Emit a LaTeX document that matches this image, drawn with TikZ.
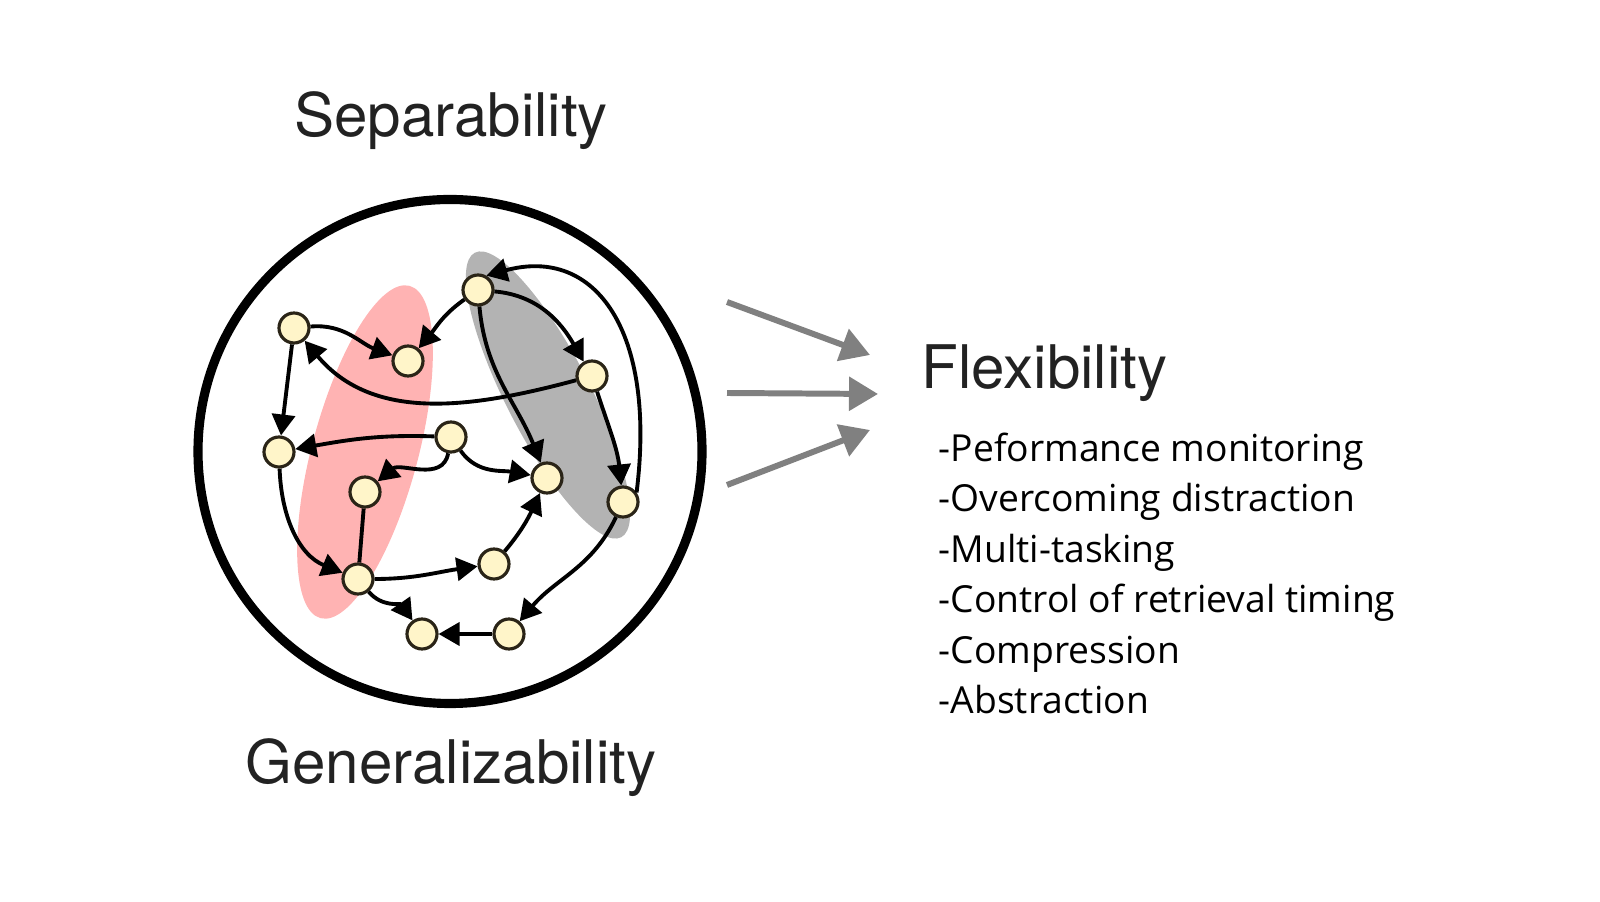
\documentclass[tikz,border=0pt]{standalone}
\usepackage{fontspec}
\setmainfont{TeX Gyre Heros}
\newfontfamily\listfont{Open Sans}
\usetikzlibrary{arrows.meta}
\definecolor{unitfill}{HTML}{FFF5C9}
\definecolor{unitedge}{HTML}{2A2417}
\definecolor{redzone}{HTML}{FFB3B3}
\definecolor{grayzone}{HTML}{B3B3B3}
\definecolor{fanline}{HTML}{808080}
\definecolor{ink}{HTML}{222222}

\begin{document}
\begin{tikzpicture}[>={Triangle[length=2.1mm,width=2.3mm]},
  unit/.style={circle,draw=unitedge,fill=unitfill,line width=0.9pt,minimum size=3mm,inner sep=0pt},
  link/.style={->,line width=1.1pt},
  fan/.style={-{Triangle[length=2.9mm,width=3.3mm]},fanline,line width=1.7pt},
  title/.style={font=\fontsize{17.1}{20}\selectfont,text=ink,inner sep=0pt},
  item/.style={font=\listfont\fontsize{10.6}{12}\selectfont,anchor=base west,inner sep=0pt}]
  \useasboundingbox (0,0) rectangle (16,9.01);

  % the two shaded groups, under everything else
  \fill[redzone,rotate around={75:(3.65,4.49)}] (3.65,4.49) ellipse (1.72 and 0.53);
  \fill[grayzone,rotate around={-62.8:(5.48,5.06)}] (5.48,5.06) ellipse (1.60 and 0.42);
  \draw[line width=2.6pt] (4.50,4.495) circle (2.52);

  % units of the network
  \node[unit] (n1) at (2.94,5.73) {};
  \node[unit] (n2) at (4.08,5.40) {};
  \node[unit] (n3) at (4.78,6.11) {};
  \node[unit] (n4) at (5.92,5.25) {};
  \node[unit] (n5) at (2.79,4.49) {};
  \node[unit] (n6) at (4.51,4.64) {};
  \node[unit] (n7) at (3.65,4.09) {};
  \node[unit] (n8) at (5.47,4.23) {};
  \node[unit] (n9) at (6.23,3.99) {};
  \node[unit] (n10) at (3.58,3.22) {};
  \node[unit] (n11) at (4.94,3.37) {};
  \node[unit] (n12) at (4.22,2.67) {};
  \node[unit] (n13) at (5.09,2.67) {};

  \draw[link] (n1) to[out=5,in=160] (n2);
  \draw[link] (n4) to[out=195,in=-50] (n1);
  \draw[link] (n3) to[out=215,in=50] (n2);
  \draw[link] (n3) to[out=-5,in=120] (n4);
  \draw[link] (n9.35) .. controls +(0.2,1.6) and +(1.1,0.3) .. (n3.60);
  \draw[link] (n3) to[out=-85,in=112] (n8);
  \draw[link] (n4) to[out=-72,in=96] (n9);
  \draw[link] (n1) -- (n5);
  \draw[link] (n6) to[out=178,in=10] (n5);
  \draw[link] (n6) to[out=-100,in=40] (n7);
  \draw[link] (n6) to[out=-55,in=170] (n8);
  \draw[link] (n5) to[out=-88,in=158] (n10);
  \draw[line width=1.1pt] (n7) -- (n10);
  \draw[link] (n10) to[out=0,in=188] (n11);
  \draw[link] (n11) to[out=50,in=-115] (n8);
  \draw[link] (n10) to[out=-50,in=125] (n12);
  \draw[link] (n13) -- (n12);
  \draw[link] (n9) to[out=-115,in=50] (n13);

  \node[title,anchor=base] (sep) at (4.51,7.64) {Separability};
  \node[title,anchor=base] (gen) at (4.51,1.17) {Generalizability};

  % three arrows into the right-hand list
  \coordinate (s1) at (7.27,5.99);
  \coordinate (t1) at (8.70,5.46);
  \coordinate (s2) at (7.27,5.08);
  \coordinate (t2) at (8.78,5.07);
  \coordinate (s3) at (7.27,4.16);
  \coordinate (t3) at (8.70,4.71);
  \draw[fan] (s1) -- (t1);
  \draw[fan] (s2) -- (t2);
  \draw[fan] (s3) -- (t3);

  \node[title,anchor=base west] (flex) at (9.21,5.12) {Flexibility};
  \node[item] (m1) at (9.38,4.395) {-Peformance monitoring};
  \node[item] (m2) at (9.38,3.891) {-Overcoming distraction};
  \node[item] (m3) at (9.38,3.387) {-Multi-tasking};
  \node[item] (m4) at (9.38,2.883) {-Control of retrieval timing};
  \node[item] (m5) at (9.38,2.379) {-Compression};
  \node[item] (m6) at (9.38,1.875) {-Abstraction};
\end{tikzpicture}
\end{document}
